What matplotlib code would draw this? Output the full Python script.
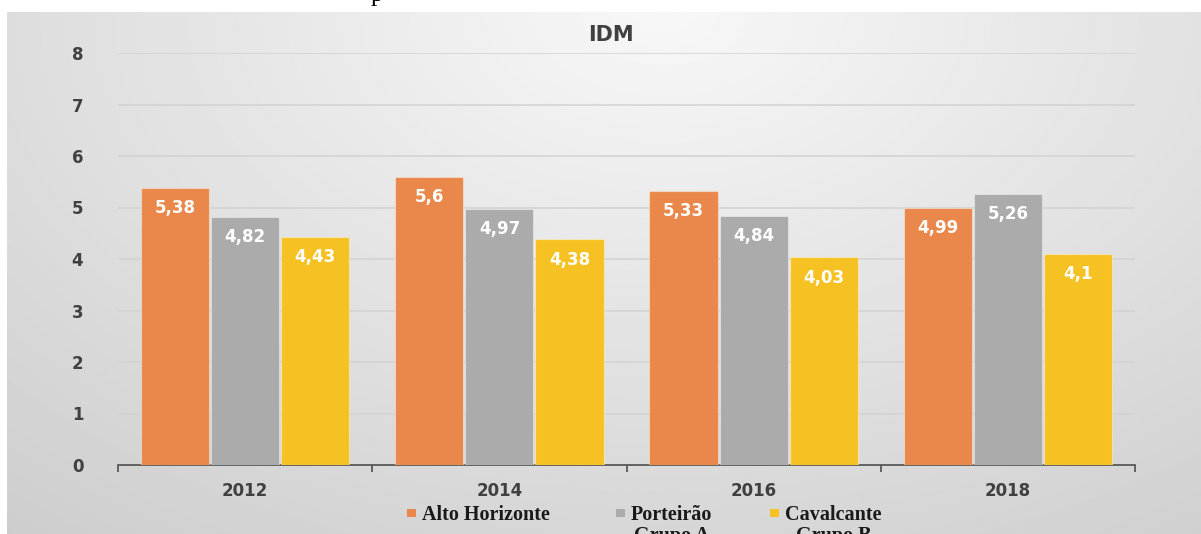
import numpy as np
import matplotlib.pyplot as plt
from matplotlib.patches import Rectangle

anos = ['2012', '2014', '2016', '2018']
alto_horizonte = [5.38, 5.6, 5.33, 4.99]
porteirao = [4.82, 4.97, 4.84, 5.26]
cavalcante = [4.43, 4.38, 4.03, 4.1]
series = ['Alto Horizonte', 'Porteirão\nGrupo A', 'Cavalcante\nGrupo B']
cores = ['#E9884A', '#ABABAB', '#F6C223']

W, H = 1201, 534
fig = plt.figure(figsize=(W / 100, H / 100), dpi=100)

# fundo com degradê (claro no topo/centro, escuro nas bordas)
bg = fig.add_axes([7 / W, 0, 1 - 7 / W, 1 - 12 / H], zorder=-5)
yy, xx = np.mgrid[0:1:300j, 0:1:600j]
d = np.sqrt(((xx - 0.55) / 0.75) ** 2 + (yy / 1.1) ** 2)
grad = 0.97 - 0.17 * np.clip(d, 0, 1.2) / 1.2
bg.imshow(grad, cmap='gray', vmin=0, vmax=1, aspect='auto', extent=[0, 1, 0, 1], origin='upper')
bg.set_axis_off()

ax = fig.add_axes([118 / W, 1 - 465 / H, (1135 - 118) / W, (465 - 53) / H])
ax.set_facecolor('none')

x = np.arange(len(anos))
larg = 0.268
passo = 0.276
dados = [alto_horizonte, porteirao, cavalcante]
for i, (vals, cor, nome) in enumerate(zip(dados, cores, series)):
    barras = ax.bar(x + (i - 1) * passo, vals, larg, color=cor, label=nome,
                    edgecolor=(1, 1, 1, 0.4), linewidth=0.8, zorder=3)
    textos = [f'{v:g}'.replace('.', ',') for v in vals]
    for b, t in zip(barras, textos):
        ax.annotate(t, (b.get_x() + b.get_width() / 2, b.get_height()),
                    xytext=(0, -8), textcoords='offset points', ha='center', va='top',
                    color='white', fontsize=12, fontweight='bold', zorder=4)

ax.set_xlim(-0.5, len(anos) - 0.5)
ax.set_ylim(0, 8)
ax.set_yticks(range(0, 9))
ax.grid(axis='y', color='#d2d2d2', linewidth=1.1, zorder=0)
ax.set_axisbelow(True)

for s in ['top', 'right', 'left']:
    ax.spines[s].set_visible(False)
ax.spines['bottom'].set_color('#595959')
ax.spines['bottom'].set_linewidth(1.3)

ax.set_xticks(x)
ax.set_xticklabels(anos)
ax.set_xticks(np.arange(-0.5, len(anos)), minor=True)
ax.tick_params(axis='x', which='major', length=0, pad=12, labelsize=12, labelcolor='#404040')
ax.tick_params(axis='x', which='minor', length=5, width=1.3, color='#595959', direction='out')
ax.tick_params(axis='y', length=0, pad=25, labelsize=12, labelcolor='#404040')
for lab in ax.get_xticklabels() + ax.get_yticklabels():
    lab.set_fontweight('bold')

fig.text(611 / W, 1 - 35 / H, 'IDM', ha='center', va='center', fontsize=15,
         fontweight='bold', color='#404040')

# resto de texto cortado no topo da imagem
fig.text(377 / W, 1 - 1 / H, 'p', ha='center', va='baseline', fontsize=18,
         family='Liberation Serif', color='black', zorder=10)

# legenda (quadrado + texto, primeira linha alinhada ao quadrado)
leg_x = [407, 616, 770]
for cor, nome, lx in zip(cores, series, leg_x):
    fig.add_artist(Rectangle((lx / W, 1 - 517 / H), 9 / W, 8 / H, transform=fig.transFigure,
                             facecolor=cor, edgecolor='none'))
    fig.text((lx + 15) / W, 1 - 505 / H, nome, ha='left', va='top', multialignment='center',
             fontsize=14.5, fontweight='bold', family='Liberation Serif', color='#1a1a1a',
             linespacing=1.1)

fig.savefig('out.png', dpi=100)
